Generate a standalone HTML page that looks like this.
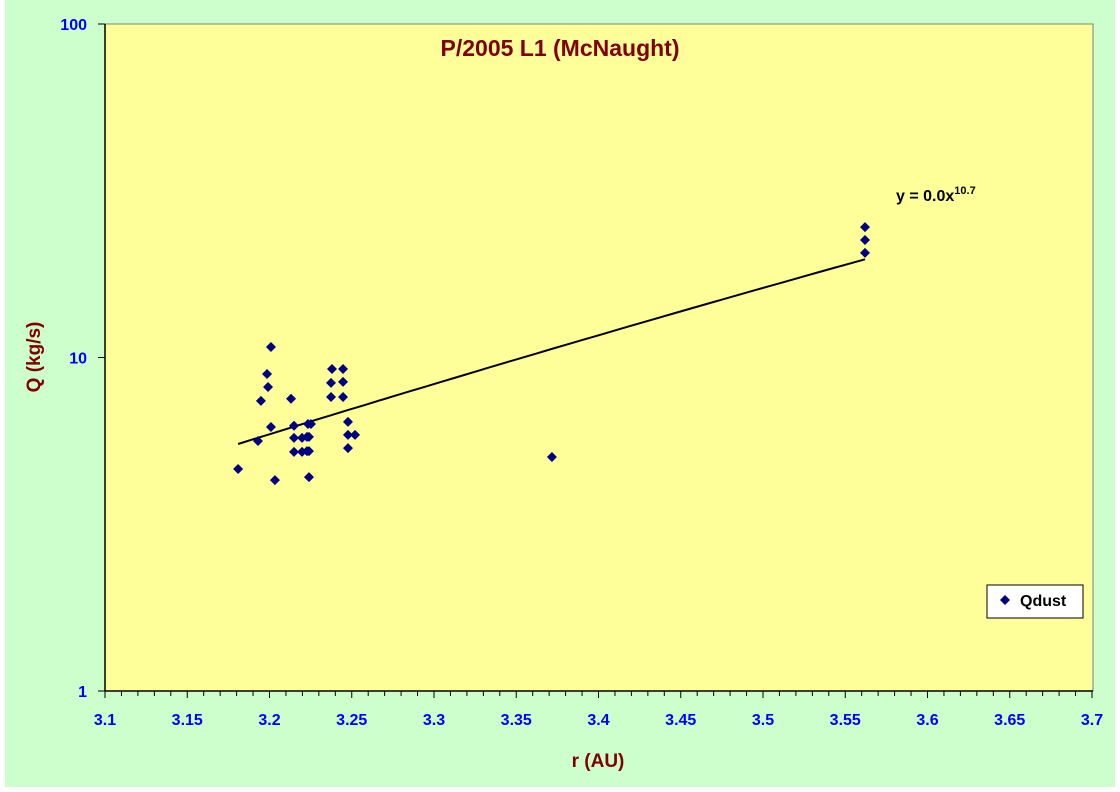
<!DOCTYPE html>
<html><head><meta charset="utf-8"><style>
body{margin:0;background:#fff}
svg{display:block;font-family:"Liberation Sans",Arial,sans-serif}
</style></head><body>
<svg id="chart" width="1120" height="792" viewBox="0 0 1120 792">
<rect x="5" y="0" width="1110" height="787" fill="#CCFFCC"/>
<rect x="105" y="24" width="988" height="667" fill="#FFFF99" stroke="#808080" stroke-width="1"/>
<g id="axes"></g>
<g id="marks"></g>
<text x="560" y="56" text-anchor="middle" font-size="23" font-weight="bold" fill="#800000">P/2005 L1 (McNaught)</text>
<text x="598" y="767" text-anchor="middle" font-size="19" font-weight="bold" fill="#800000">r (AU)</text>
<text transform="translate(40,357) rotate(-90)" text-anchor="middle" font-size="19" font-weight="bold" fill="#800000">Q (kg/s)</text>
<text x="896" y="201" font-size="16" font-weight="bold" fill="#000">y = 0.0x<tspan dy="-7" font-size="11">10.7</tspan></text>
<g>
<rect x="987" y="585" width="96" height="33" fill="#fff" stroke="#000"/>
<path d="M1005,595 l5,5 l-5,5 l-5,-5z" fill="#000080"/>
<text x="1020" y="606" font-size="16" font-weight="bold">Qdust</text>
</g>
</svg>
<script>
const xTicks=[3.1,3.15,3.2,3.25,3.3,3.35,3.4,3.45,3.5,3.55,3.6,3.65,3.7];
const xTickLabels=["3.1","3.15","3.2","3.25","3.3","3.35","3.4","3.45","3.5","3.55","3.6","3.65","3.7"];
const yTicks=[1,10,100];
const yTickLabels=["1","10","100"];
const rValues=[3.2009,3.1985,3.1991,3.1948,3.2131,3.238,3.2447,3.2374,3.2447,3.2374,3.2447,3.2009,3.2149,3.2234,3.2252,3.2477,3.193,3.2149,3.2198,3.2228,3.224,3.2477,3.252,3.2477,3.2149,3.2198,3.2228,3.224,3.1809,3.2033,3.224,3.3717,3.562,3.562,3.562];
const qdustValues=[10.75,8.92,8.16,7.41,7.52,9.24,9.24,8.39,8.45,7.61,7.61,6.19,6.24,6.32,6.32,6.41,5.62,5.74,5.74,5.78,5.78,5.86,5.86,5.35,5.21,5.21,5.24,5.24,4.63,4.29,4.38,5.03,24.6,22.5,20.6];
const NS="http://www.w3.org/2000/svg";
const X0=105,X1=1092,Y0=691,Y1=24;
function xs(v){return X0+(v-3.1)/0.6*(X1-X0);}
function ys(v){return Y0-Math.log10(v)/2*(Y0-Y1);}
const axes=document.getElementById('axes'),marks=document.getElementById('marks');
function mk(tag,attrs,parent){const e=document.createElementNS(NS,tag);for(const k in attrs)e.setAttribute(k,attrs[k]);parent.appendChild(e);return e;}
let l=mk('line',{x1:X0,y1:Y0,x2:X1+1,y2:Y0,stroke:'#000','stroke-width':1.5},axes);


l=mk('line',{x1:X0,y1:Y1,x2:X0,y2:Y0,stroke:'#000','stroke-width':1.5},axes);


for(let i=0;i<=60;i++){
  const x=X0+i*(X1-X0)/60;
  const t=mk('line',{x1:x,y1:Y0,x2:x,y2:Y0+(i%5==0?7:5),stroke:'#000'},axes);
  
  
}
xTicks.forEach((v,i)=>{
  const t=mk('text',{x:xs(v),y:Y0+34,'text-anchor':'middle','font-size':16,'font-weight':'bold',fill:'#0000FF'},axes);
  t.textContent=xTickLabels[i];
  
  
});
yTicks.forEach((v,i)=>{
  const y=ys(v);
  const t=mk('line',{x1:X0-7,y1:y,x2:X0,y2:y,stroke:'#000'},axes);
  
  
  const tx=mk('text',{x:X0-18,y:y+6,'text-anchor':'end','font-size':16,'font-weight':'bold',fill:'#0000FF'},axes);
  tx.textContent=yTickLabels[i];
  
  
});
// power-law trendline fit in log-log space
let n=rValues.length,sx=0,sy=0,sxx=0,sxy=0;
for(let i=0;i<n;i++){const a=Math.log(rValues[i]),b=Math.log(qdustValues[i]);sx+=a;sy+=b;sxx+=a*a;sxy+=a*b;}
const bb=(n*sxy-sx*sy)/(n*sxx-sx*sx),aa=Math.exp((sy-bb*sx)/n);
const rmin=Math.min(...rValues),rmax=Math.max(...rValues);
const pts=[];for(let i=0;i<=40;i++){const r=rmin+(rmax-rmin)*i/40;pts.push(xs(r).toFixed(1)+','+ys(aa*Math.pow(r,bb)).toFixed(1));}
const tl=mk('polyline',{points:pts.join(' '),fill:'none',stroke:'#000','stroke-width':2},marks);


rValues.forEach((r,i)=>{
  const x=xs(r),y=ys(qdustValues[i]);
  const p=mk('path',{d:`M${x},${y-5} l5,5 l-5,5 l-5,-5z`,fill:'#000080'},marks);
  
  
});
</script>
</body></html>
